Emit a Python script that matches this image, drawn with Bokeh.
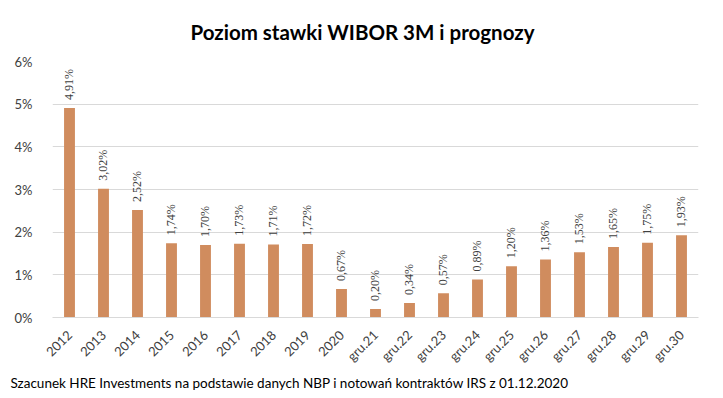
import math
from bokeh.plotting import figure
from bokeh.models import ColumnDataSource, Range1d, Title, PrintfTickFormatter, FixedTicker, LabelSet
from bokeh.embed import file_html
from bokeh.resources import INLINE

categories = ["2012", "2013", "2014", "2015", "2016", "2017", "2018", "2019", "2020",
              "gru.21", "gru.22", "gru.23", "gru.24", "gru.25", "gru.26", "gru.27",
              "gru.28", "gru.29", "gru.30"]
rates = [4.91, 3.02, 2.52, 1.74, 1.70, 1.73, 1.71, 1.72, 0.67,
         0.20, 0.34, 0.57, 0.89, 1.20, 1.36, 1.53, 1.65, 1.75, 1.93]
y_ticks = [0, 1, 2, 3, 4, 5, 6]

labels = [("%.2f%%" % v).replace(".", ",") for v in rates]
src = ColumnDataSource(dict(cat=categories, val=rates, lab=labels))

FONT = "Lato"
p = figure(x_range=categories, y_range=Range1d(0, 6), width=715, height=390,
           output_backend="svg", toolbar_location=None,
           min_border_left=52, min_border_right=17, min_border_top=61, min_border_bottom=72)

p.title.text = "Poziom stawki WIBOR 3M i prognozy"
p.title.align = "left"
p.title.vertical_align = "top"
p.title.offset = 138
p.title.standoff = 32
p.title.text_font = FONT
p.title.text_font_size = "20.5px"
p.title.text_font_style = "bold"
p.title.text_color = "#000000"

p.vbar(x="cat", top="val", width=0.32, source=src, color="#D08C5E", line_color=None)
p.add_layout(LabelSet(x="cat", y="val", text="lab", source=src, angle=math.pi / 2,
                      text_align="left", text_baseline="middle", y_offset=8,
                      text_font="Open Sans", text_font_size="12px", text_color="#404040"))

p.outline_line_color = None
p.xgrid.grid_line_color = None
p.ygrid.grid_line_color = "#D9D9D9"
p.ygrid.ticker = FixedTicker(ticks=y_ticks)

p.yaxis.ticker = FixedTicker(ticks=y_ticks)
p.yaxis.formatter = PrintfTickFormatter(format="%d%%")
p.yaxis.axis_line_color = None
p.yaxis.major_tick_line_color = None
p.yaxis.minor_tick_line_color = None
p.yaxis.major_label_standoff = 14
p.yaxis.major_label_text_font = FONT
p.yaxis.major_label_text_font_size = "13px"
p.yaxis.major_label_text_color = "#404040"

p.xaxis.axis_line_color = "#D9D9D9"
p.xaxis.major_tick_line_color = None
p.xaxis.minor_tick_line_color = None
p.xaxis.major_label_orientation = math.pi / 4
p.xaxis.major_label_standoff = 9
p.xaxis.major_label_text_font = FONT
p.xaxis.major_label_text_font_size = "13px"
p.xaxis.major_label_text_color = "#404040"

footer = Title(text="Szacunek HRE Investments na podstawie danych NBP i notowań kontraktów IRS z 01.12.2020",
               text_font=FONT, text_font_size="13.5px", text_font_style="normal",
               text_color="#000000", align="left", offset=-42, standoff=0)
p.add_layout(footer, "below")

open("out.html", "w").write(file_html(p, INLINE))
